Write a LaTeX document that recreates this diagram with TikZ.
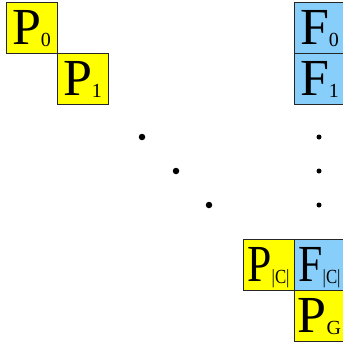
\documentclass[tikz,border=0pt]{standalone}
\usepackage{fontspec}
\setmainfont{Liberation Serif}
\definecolor{boxyellow}{RGB}{255,255,0}
\definecolor{boxblue}{RGB}{135,206,250}
\newcommand{\lbl}[2]{\fontsize{52}{52}\selectfont #1\raisebox{-2pt}{\fontsize{20}{20}\selectfont #2}}
\newcommand{\narrowlbl}[2]{\scalebox{0.84}[1]{\lbl{#1}{#2}}}
\begin{document}
\begin{tikzpicture}[x=1pt,y=-1pt,
  cell/.style={draw=black!85,line width=0.7pt,minimum width=51pt,minimum height=51pt,inner sep=0pt,text height=36pt,text depth=2pt},
  pcell/.style={cell,fill=boxyellow},
  fcell/.style={cell,fill=boxblue},
  bigdot/.style={circle,fill=black,inner sep=0pt,minimum size=6.5pt},
  smalldot/.style={circle,fill=black,inner sep=0pt,minimum size=5pt}]
\useasboundingbox (0,0) rectangle (343,343);
\node[pcell] (p0) at (31.5,27.5) {\lbl{P}{0}};
\node[pcell] (p1) at (82.5,78.5) {\lbl{P}{1}};
\node[fcell] (f0) at (319.5,27.5) {\lbl{F}{0}};
\node[fcell] (f1) at (319.5,78.5) {\lbl{F}{1}};
\node[pcell] (pc) at (268.5,264.5) {\narrowlbl{P}{|C|}};
\node[fcell] (fc) at (319.5,264.5) {\narrowlbl{F}{|C|}};
\node[pcell] (pg) at (319.5,315.5) {\lbl{P}{G}};
\node[bigdot] (d1) at (142,137) {};
\node[bigdot] (d2) at (176,171) {};
\node[bigdot] (d3) at (209,205) {};
\node[smalldot] (v1) at (319,137) {};
\node[smalldot] (v2) at (319,171) {};
\node[smalldot] (v3) at (319,205) {};
\end{tikzpicture}
\end{document}
